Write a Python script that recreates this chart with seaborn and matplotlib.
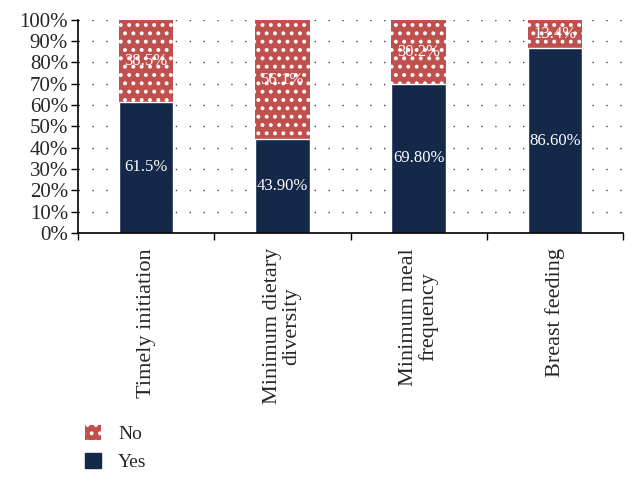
import matplotlib
matplotlib.use("Agg")
import matplotlib.pyplot as plt
import seaborn as sns
import pandas as pd
from matplotlib.patches import Patch

categories = ["Timely initiation", "Minimum dietary\ndiversity",
              "Minimum meal\nfrequency", "Breast feeding"]
yes_vals = [61.5, 43.9, 69.8, 86.6]
no_vals = [38.5, 56.1, 30.2, 13.4]
yes_labels = ["61.5%", "43.90%", "69.80%", "86.60%"]
no_labels = ["38.5%", "56.1%", "30.2%", "13.4%"]

YES_COLOR = "#14284a"
NO_COLOR = "#c0504d"

sns.set_style("white")
plt.rcParams["font.family"] = ["Liberation Serif", "DejaVu Serif"]
plt.rcParams["hatch.color"] = "white"
plt.rcParams["hatch.linewidth"] = 1.6

df = pd.DataFrame({"cat": categories, "yes": yes_vals, "no": no_vals})
df["total"] = df["yes"] + df["no"]

fig = plt.figure(figsize=(6.38, 4.83), dpi=100)
ax = fig.add_axes([0.122, 0.518, 0.855, 0.441])

# stacked bars: total (No on top) first, then Yes over it
sns.barplot(data=df, x="cat", y="total", color=NO_COLOR, width=0.4,
            saturation=1, ax=ax)
no_patches = list(ax.patches)
sns.barplot(data=df, x="cat", y="yes", color=YES_COLOR, width=0.4,
            saturation=1, ax=ax)
for p in no_patches:
    p.set_hatch("..")
    p.set_edgecolor("white")
    p.set_linewidth(0)

for i in range(len(categories)):
    ax.text(i, yes_vals[i] / 2, yes_labels[i], ha="center", va="center",
            color="white", fontsize=12)
    ax.text(i, yes_vals[i] + no_vals[i] / 2, no_labels[i], ha="center",
            va="center", color="white", fontsize=12)

ax.set_ylim(0, 100)
ax.set_xlim(-0.5, len(categories) - 0.5)
ax.set_yticks(range(0, 101, 10))
ax.set_yticklabels([f"{v}%" for v in range(0, 101, 10)], fontsize=15)
ax.set_xticks([i - 0.5 for i in range(len(categories) + 1)], minor=False)
ax.set_xticklabels([])
ax.set_xticks(range(len(categories)), minor=True)
ax.set_xticklabels(categories, minor=True, rotation=90, fontsize=16,
                   va="top", ha="center", linespacing=1.0)
ax.tick_params(axis="x", which="major", length=5, width=1, direction="out",
               color="black", bottom=True)
ax.tick_params(axis="x", which="minor", length=0, pad=11)
ax.tick_params(axis="y", length=5, width=1, direction="out", color="black",
               left=True, pad=2)
ax.set_xlabel("")
ax.set_ylabel("")

ax.yaxis.grid(True, linestyle=(0, (1, 9)), color="#444444", linewidth=1.0)
ax.set_axisbelow(True)
for side in ["top", "right"]:
    ax.spines[side].set_visible(False)
ax.spines["left"].set_color("black")
ax.spines["bottom"].set_color("black")
ax.spines["left"].set_linewidth(1.2)
ax.spines["bottom"].set_linewidth(1.2)

handles = [Patch(facecolor=NO_COLOR, edgecolor="white", hatch="..", linewidth=0, label="No"),
           Patch(facecolor=YES_COLOR, edgecolor=YES_COLOR, label="Yes")]
fig.legend(handles=handles, loc="upper left", bbox_to_anchor=(0.118, 0.14),
           frameon=False, fontsize=14, handlelength=0.8, handleheight=0.8,
           handletextpad=0.9, labelspacing=0.5, borderpad=0)

fig.savefig("out.png", dpi=100)
